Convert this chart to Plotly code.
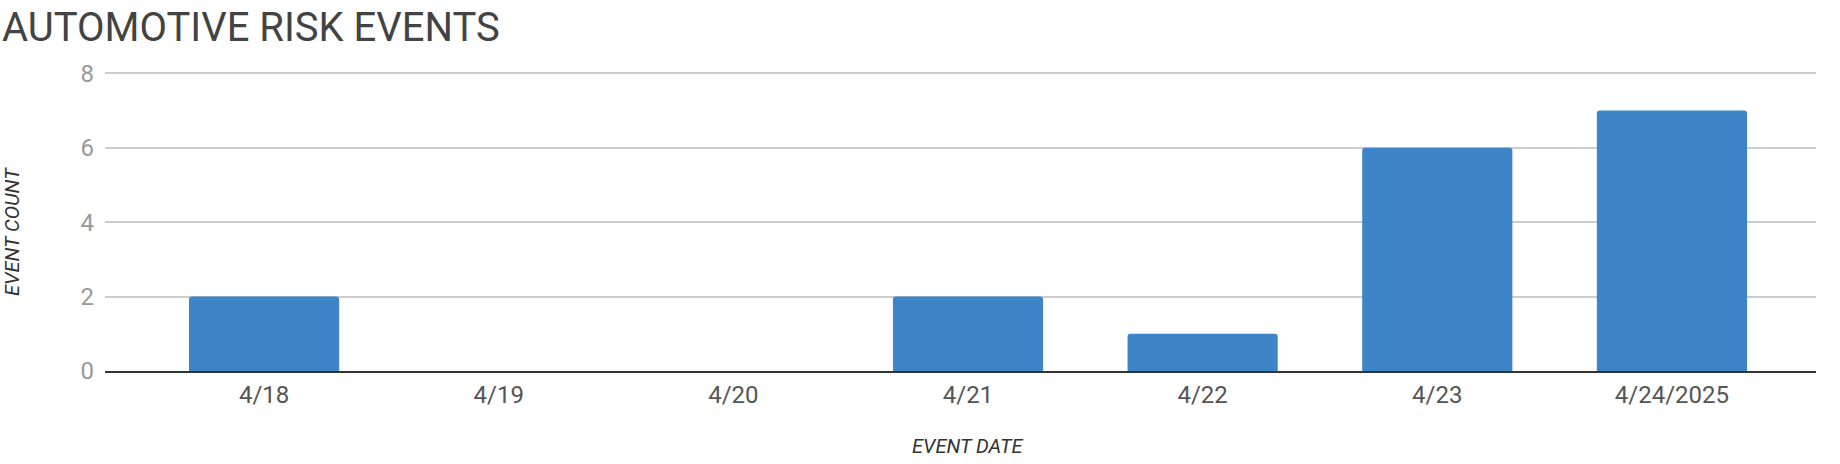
import plotly.graph_objects as go

categories = ["4/18", "4/19", "4/20", "4/21", "4/22", "4/23", "4/24/2025"]
event_counts = [2, 0, 0, 2, 1, 6, 7]
y_ticks = [0, 2, 4, 6, 8]

fig = go.Figure()
fig.add_trace(go.Bar(
    x=categories,
    y=event_counts,
    marker=dict(color="#3d85c6", cornerradius=3, line=dict(width=0)),
    width=0.64,
))

L, R, T, B = 105, 24, 71, 93
W, H = 1840, 464
pw, ph = W - L - R, H - T - B

axis_title_font = dict(family="Roboto", size=20, color="#333333")

fig.update_layout(
    width=W,
    height=H,
    margin=dict(l=L, r=R, t=T, b=B),
    paper_bgcolor="white",
    plot_bgcolor="white",
    showlegend=False,
    xaxis=dict(
        type="category",
        range=[-0.678, 6.614],
        showgrid=False,
        showline=True,
        linecolor="#333333",
        linewidth=2,
        ticks="",
        ticklabelstandoff=1,
        automargin=False,
        tickfont=dict(family="Roboto", size=24, color="#555555"),
    ),
    yaxis=dict(
        range=[0, 8.06],
        tickvals=y_ticks,
        showgrid=True,
        gridcolor="#cccccc",
        gridwidth=1.5,
        zeroline=False,
        showline=False,
        ticks="",
        ticklabelstandoff=10,
        automargin=False,
        tickfont=dict(family="Roboto", size=24, color="#999999"),
    ),
    annotations=[
        dict(text="AUTOMOTIVE RISK EVENTS", xref="paper", yref="paper",
             x=(0 - L) / pw, y=1 + (T - 2) / ph, xanchor="left", yanchor="top",
             showarrow=False, font=dict(family="Roboto", size=40, color="#434343")),
        dict(text="<i>EVENT DATE</i>", xref="paper", yref="paper",
             x=(968 - L) / pw, y=-(446 - (H - B)) / ph, xanchor="center", yanchor="middle",
             showarrow=False, font=axis_title_font),
        dict(text="<i>EVENT COUNT</i>", xref="paper", yref="paper",
             x=(12 - L) / pw, y=((H - B) - 232) / ph, xanchor="center", yanchor="middle",
             textangle=-90,
             showarrow=False, font=axis_title_font),
    ],
)

fig.write_html("out.html", config={"displayModeBar": False},
               post_script="document.body.style.margin='0';")
